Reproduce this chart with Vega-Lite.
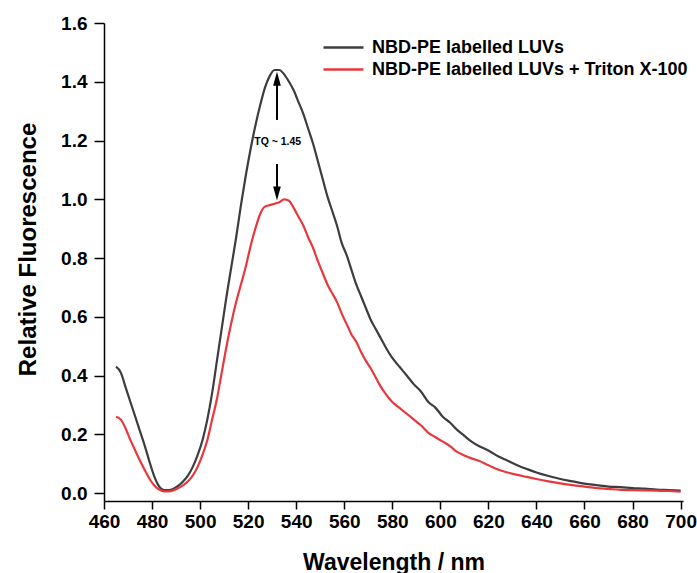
{
  "$schema": "https://vega.github.io/schema/vega-lite/v6.json",
  "width": 579,
  "height": 478,
  "autosize": {"type": "none"},
  "padding": {"left": 104, "top": 23, "right": 14, "bottom": 72},
  "background": "white",
  "config": {
    "view": {"stroke": null},
    "font": "Liberation Sans",
    "axis": {"grid": false, "domainColor": "#000", "domainWidth": 1.5, "tickColor": "#000", "tickWidth": 1.5, "labelFont": "Liberation Sans", "labelFontWeight": "bold", "labelColor": "#000", "titleFont": "Liberation Sans", "titleFontWeight": "bold", "titleColor": "#000", "labelFlush": false}
  },
  "datasets": {
    "spectra": [
      {"nm":465,"f":0.43,"s":"NBD-PE labelled LUVs"},{"nm":467,"f":0.41,"s":"NBD-PE labelled LUVs"},{"nm":469,"f":0.36,"s":"NBD-PE labelled LUVs"},{"nm":471,"f":0.31,"s":"NBD-PE labelled LUVs"},{"nm":473,"f":0.26,"s":"NBD-PE labelled LUVs"},{"nm":475,"f":0.21,"s":"NBD-PE labelled LUVs"},{"nm":477,"f":0.16,"s":"NBD-PE labelled LUVs"},{"nm":479,"f":0.105,"s":"NBD-PE labelled LUVs"},{"nm":481,"f":0.055,"s":"NBD-PE labelled LUVs"},{"nm":483,"f":0.022,"s":"NBD-PE labelled LUVs"},{"nm":485,"f":0.01,"s":"NBD-PE labelled LUVs"},{"nm":487,"f":0.01,"s":"NBD-PE labelled LUVs"},{"nm":489,"f":0.015,"s":"NBD-PE labelled LUVs"},{"nm":491,"f":0.025,"s":"NBD-PE labelled LUVs"},{"nm":493,"f":0.04,"s":"NBD-PE labelled LUVs"},{"nm":495,"f":0.06,"s":"NBD-PE labelled LUVs"},{"nm":497,"f":0.09,"s":"NBD-PE labelled LUVs"},{"nm":499,"f":0.13,"s":"NBD-PE labelled LUVs"},{"nm":501,"f":0.18,"s":"NBD-PE labelled LUVs"},{"nm":503,"f":0.25,"s":"NBD-PE labelled LUVs"},{"nm":505,"f":0.34,"s":"NBD-PE labelled LUVs"},{"nm":507,"f":0.45,"s":"NBD-PE labelled LUVs"},{"nm":509,"f":0.56,"s":"NBD-PE labelled LUVs"},{"nm":511,"f":0.67,"s":"NBD-PE labelled LUVs"},{"nm":513,"f":0.77,"s":"NBD-PE labelled LUVs"},{"nm":515,"f":0.87,"s":"NBD-PE labelled LUVs"},{"nm":517,"f":0.98,"s":"NBD-PE labelled LUVs"},{"nm":519,"f":1.08,"s":"NBD-PE labelled LUVs"},{"nm":521,"f":1.17,"s":"NBD-PE labelled LUVs"},{"nm":523,"f":1.25,"s":"NBD-PE labelled LUVs"},{"nm":525,"f":1.32,"s":"NBD-PE labelled LUVs"},{"nm":527,"f":1.38,"s":"NBD-PE labelled LUVs"},{"nm":529,"f":1.42,"s":"NBD-PE labelled LUVs"},{"nm":531,"f":1.44,"s":"NBD-PE labelled LUVs"},{"nm":533,"f":1.44,"s":"NBD-PE labelled LUVs"},{"nm":535,"f":1.425,"s":"NBD-PE labelled LUVs"},{"nm":537,"f":1.4,"s":"NBD-PE labelled LUVs"},{"nm":539,"f":1.37,"s":"NBD-PE labelled LUVs"},{"nm":541,"f":1.33,"s":"NBD-PE labelled LUVs"},{"nm":543,"f":1.29,"s":"NBD-PE labelled LUVs"},{"nm":545,"f":1.24,"s":"NBD-PE labelled LUVs"},{"nm":547,"f":1.19,"s":"NBD-PE labelled LUVs"},{"nm":549,"f":1.13,"s":"NBD-PE labelled LUVs"},{"nm":551,"f":1.07,"s":"NBD-PE labelled LUVs"},{"nm":553,"f":1.01,"s":"NBD-PE labelled LUVs"},{"nm":555,"f":0.96,"s":"NBD-PE labelled LUVs"},{"nm":557,"f":0.91,"s":"NBD-PE labelled LUVs"},{"nm":559,"f":0.85,"s":"NBD-PE labelled LUVs"},{"nm":561,"f":0.81,"s":"NBD-PE labelled LUVs"},{"nm":563,"f":0.76,"s":"NBD-PE labelled LUVs"},{"nm":565,"f":0.71,"s":"NBD-PE labelled LUVs"},{"nm":567,"f":0.67,"s":"NBD-PE labelled LUVs"},{"nm":569,"f":0.63,"s":"NBD-PE labelled LUVs"},{"nm":571,"f":0.59,"s":"NBD-PE labelled LUVs"},{"nm":573,"f":0.56,"s":"NBD-PE labelled LUVs"},{"nm":575,"f":0.53,"s":"NBD-PE labelled LUVs"},{"nm":577,"f":0.5,"s":"NBD-PE labelled LUVs"},{"nm":580,"f":0.46,"s":"NBD-PE labelled LUVs"},{"nm":583,"f":0.43,"s":"NBD-PE labelled LUVs"},{"nm":586,"f":0.4,"s":"NBD-PE labelled LUVs"},{"nm":589,"f":0.37,"s":"NBD-PE labelled LUVs"},{"nm":592,"f":0.345,"s":"NBD-PE labelled LUVs"},{"nm":595,"f":0.31,"s":"NBD-PE labelled LUVs"},{"nm":598,"f":0.29,"s":"NBD-PE labelled LUVs"},{"nm":601,"f":0.26,"s":"NBD-PE labelled LUVs"},{"nm":604,"f":0.24,"s":"NBD-PE labelled LUVs"},{"nm":607,"f":0.215,"s":"NBD-PE labelled LUVs"},{"nm":610,"f":0.195,"s":"NBD-PE labelled LUVs"},{"nm":613,"f":0.175,"s":"NBD-PE labelled LUVs"},{"nm":616,"f":0.16,"s":"NBD-PE labelled LUVs"},{"nm":620,"f":0.145,"s":"NBD-PE labelled LUVs"},{"nm":624,"f":0.125,"s":"NBD-PE labelled LUVs"},{"nm":628,"f":0.11,"s":"NBD-PE labelled LUVs"},{"nm":632,"f":0.095,"s":"NBD-PE labelled LUVs"},{"nm":636,"f":0.082,"s":"NBD-PE labelled LUVs"},{"nm":640,"f":0.07,"s":"NBD-PE labelled LUVs"},{"nm":645,"f":0.058,"s":"NBD-PE labelled LUVs"},{"nm":650,"f":0.048,"s":"NBD-PE labelled LUVs"},{"nm":655,"f":0.04,"s":"NBD-PE labelled LUVs"},{"nm":660,"f":0.032,"s":"NBD-PE labelled LUVs"},{"nm":665,"f":0.027,"s":"NBD-PE labelled LUVs"},{"nm":670,"f":0.022,"s":"NBD-PE labelled LUVs"},{"nm":675,"f":0.02,"s":"NBD-PE labelled LUVs"},{"nm":680,"f":0.017,"s":"NBD-PE labelled LUVs"},{"nm":685,"f":0.015,"s":"NBD-PE labelled LUVs"},{"nm":690,"f":0.012,"s":"NBD-PE labelled LUVs"},{"nm":695,"f":0.01,"s":"NBD-PE labelled LUVs"},{"nm":700,"f":0.008,"s":"NBD-PE labelled LUVs"},
      {"nm":465,"f":0.26,"s":"NBD-PE labelled LUVs + Triton X-100"},{"nm":467,"f":0.25,"s":"NBD-PE labelled LUVs + Triton X-100"},{"nm":469,"f":0.22,"s":"NBD-PE labelled LUVs + Triton X-100"},{"nm":471,"f":0.18,"s":"NBD-PE labelled LUVs + Triton X-100"},{"nm":473,"f":0.145,"s":"NBD-PE labelled LUVs + Triton X-100"},{"nm":475,"f":0.11,"s":"NBD-PE labelled LUVs + Triton X-100"},{"nm":477,"f":0.078,"s":"NBD-PE labelled LUVs + Triton X-100"},{"nm":479,"f":0.048,"s":"NBD-PE labelled LUVs + Triton X-100"},{"nm":481,"f":0.025,"s":"NBD-PE labelled LUVs + Triton X-100"},{"nm":483,"f":0.012,"s":"NBD-PE labelled LUVs + Triton X-100"},{"nm":485,"f":0.006,"s":"NBD-PE labelled LUVs + Triton X-100"},{"nm":487,"f":0.006,"s":"NBD-PE labelled LUVs + Triton X-100"},{"nm":489,"f":0.01,"s":"NBD-PE labelled LUVs + Triton X-100"},{"nm":491,"f":0.017,"s":"NBD-PE labelled LUVs + Triton X-100"},{"nm":493,"f":0.027,"s":"NBD-PE labelled LUVs + Triton X-100"},{"nm":495,"f":0.04,"s":"NBD-PE labelled LUVs + Triton X-100"},{"nm":497,"f":0.06,"s":"NBD-PE labelled LUVs + Triton X-100"},{"nm":499,"f":0.09,"s":"NBD-PE labelled LUVs + Triton X-100"},{"nm":501,"f":0.13,"s":"NBD-PE labelled LUVs + Triton X-100"},{"nm":503,"f":0.18,"s":"NBD-PE labelled LUVs + Triton X-100"},{"nm":505,"f":0.25,"s":"NBD-PE labelled LUVs + Triton X-100"},{"nm":507,"f":0.32,"s":"NBD-PE labelled LUVs + Triton X-100"},{"nm":509,"f":0.41,"s":"NBD-PE labelled LUVs + Triton X-100"},{"nm":511,"f":0.5,"s":"NBD-PE labelled LUVs + Triton X-100"},{"nm":513,"f":0.58,"s":"NBD-PE labelled LUVs + Triton X-100"},{"nm":515,"f":0.65,"s":"NBD-PE labelled LUVs + Triton X-100"},{"nm":517,"f":0.71,"s":"NBD-PE labelled LUVs + Triton X-100"},{"nm":519,"f":0.77,"s":"NBD-PE labelled LUVs + Triton X-100"},{"nm":521,"f":0.84,"s":"NBD-PE labelled LUVs + Triton X-100"},{"nm":523,"f":0.9,"s":"NBD-PE labelled LUVs + Triton X-100"},{"nm":525,"f":0.95,"s":"NBD-PE labelled LUVs + Triton X-100"},{"nm":527,"f":0.975,"s":"NBD-PE labelled LUVs + Triton X-100"},{"nm":529,"f":0.98,"s":"NBD-PE labelled LUVs + Triton X-100"},{"nm":531,"f":0.985,"s":"NBD-PE labelled LUVs + Triton X-100"},{"nm":533,"f":0.99,"s":"NBD-PE labelled LUVs + Triton X-100"},{"nm":535,"f":1.0,"s":"NBD-PE labelled LUVs + Triton X-100"},{"nm":537,"f":0.995,"s":"NBD-PE labelled LUVs + Triton X-100"},{"nm":539,"f":0.97,"s":"NBD-PE labelled LUVs + Triton X-100"},{"nm":541,"f":0.94,"s":"NBD-PE labelled LUVs + Triton X-100"},{"nm":543,"f":0.91,"s":"NBD-PE labelled LUVs + Triton X-100"},{"nm":545,"f":0.87,"s":"NBD-PE labelled LUVs + Triton X-100"},{"nm":547,"f":0.835,"s":"NBD-PE labelled LUVs + Triton X-100"},{"nm":549,"f":0.79,"s":"NBD-PE labelled LUVs + Triton X-100"},{"nm":551,"f":0.75,"s":"NBD-PE labelled LUVs + Triton X-100"},{"nm":553,"f":0.71,"s":"NBD-PE labelled LUVs + Triton X-100"},{"nm":555,"f":0.68,"s":"NBD-PE labelled LUVs + Triton X-100"},{"nm":557,"f":0.65,"s":"NBD-PE labelled LUVs + Triton X-100"},{"nm":559,"f":0.61,"s":"NBD-PE labelled LUVs + Triton X-100"},{"nm":561,"f":0.575,"s":"NBD-PE labelled LUVs + Triton X-100"},{"nm":563,"f":0.54,"s":"NBD-PE labelled LUVs + Triton X-100"},{"nm":565,"f":0.515,"s":"NBD-PE labelled LUVs + Triton X-100"},{"nm":567,"f":0.48,"s":"NBD-PE labelled LUVs + Triton X-100"},{"nm":569,"f":0.45,"s":"NBD-PE labelled LUVs + Triton X-100"},{"nm":571,"f":0.425,"s":"NBD-PE labelled LUVs + Triton X-100"},{"nm":573,"f":0.395,"s":"NBD-PE labelled LUVs + Triton X-100"},{"nm":575,"f":0.365,"s":"NBD-PE labelled LUVs + Triton X-100"},{"nm":577,"f":0.34,"s":"NBD-PE labelled LUVs + Triton X-100"},{"nm":580,"f":0.31,"s":"NBD-PE labelled LUVs + Triton X-100"},{"nm":583,"f":0.29,"s":"NBD-PE labelled LUVs + Triton X-100"},{"nm":586,"f":0.27,"s":"NBD-PE labelled LUVs + Triton X-100"},{"nm":589,"f":0.25,"s":"NBD-PE labelled LUVs + Triton X-100"},{"nm":592,"f":0.23,"s":"NBD-PE labelled LUVs + Triton X-100"},{"nm":595,"f":0.205,"s":"NBD-PE labelled LUVs + Triton X-100"},{"nm":598,"f":0.19,"s":"NBD-PE labelled LUVs + Triton X-100"},{"nm":601,"f":0.175,"s":"NBD-PE labelled LUVs + Triton X-100"},{"nm":604,"f":0.16,"s":"NBD-PE labelled LUVs + Triton X-100"},{"nm":607,"f":0.14,"s":"NBD-PE labelled LUVs + Triton X-100"},{"nm":610,"f":0.128,"s":"NBD-PE labelled LUVs + Triton X-100"},{"nm":613,"f":0.118,"s":"NBD-PE labelled LUVs + Triton X-100"},{"nm":616,"f":0.11,"s":"NBD-PE labelled LUVs + Triton X-100"},{"nm":620,"f":0.095,"s":"NBD-PE labelled LUVs + Triton X-100"},{"nm":624,"f":0.08,"s":"NBD-PE labelled LUVs + Triton X-100"},{"nm":628,"f":0.07,"s":"NBD-PE labelled LUVs + Triton X-100"},{"nm":632,"f":0.062,"s":"NBD-PE labelled LUVs + Triton X-100"},{"nm":636,"f":0.055,"s":"NBD-PE labelled LUVs + Triton X-100"},{"nm":640,"f":0.048,"s":"NBD-PE labelled LUVs + Triton X-100"},{"nm":645,"f":0.04,"s":"NBD-PE labelled LUVs + Triton X-100"},{"nm":650,"f":0.033,"s":"NBD-PE labelled LUVs + Triton X-100"},{"nm":655,"f":0.027,"s":"NBD-PE labelled LUVs + Triton X-100"},{"nm":660,"f":0.022,"s":"NBD-PE labelled LUVs + Triton X-100"},{"nm":665,"f":0.017,"s":"NBD-PE labelled LUVs + Triton X-100"},{"nm":670,"f":0.014,"s":"NBD-PE labelled LUVs + Triton X-100"},{"nm":675,"f":0.011,"s":"NBD-PE labelled LUVs + Triton X-100"},{"nm":680,"f":0.01,"s":"NBD-PE labelled LUVs + Triton X-100"},{"nm":685,"f":0.009,"s":"NBD-PE labelled LUVs + Triton X-100"},{"nm":690,"f":0.008,"s":"NBD-PE labelled LUVs + Triton X-100"},{"nm":695,"f":0.007,"s":"NBD-PE labelled LUVs + Triton X-100"},{"nm":700,"f":0.005,"s":"NBD-PE labelled LUVs + Triton X-100"}
    ],
    "shafts": [
      {"nm":532,"f":1.27,"f2":1.4},
      {"nm":532,"f":1.12,"f2":1.03}
    ],
    "headUp": [{"nm":532,"f":1.41}],
    "headDown": [{"nm":532,"f":1.02}],
    "label": [{"nm":532.3,"f":1.195,"t":"TQ ~ 1.45"}]
  },
  "layer": [
    {
      "data": {"name": "spectra"},
      "mark": {"type": "line", "strokeWidth": 2.2, "interpolate": "monotone"},
      "encoding": {
        "x": {"field": "nm", "type": "quantitative",
          "scale": {"domain": [460, 701], "nice": false, "zero": false},
          "axis": {"title": "Wavelength / nm", "titleFontSize": 23, "titlePadding": 20,
            "values": [460,470,480,490,500,510,520,530,540,550,560,570,580,590,600,610,620,630,640,650,660,670,680,690,700],
            "labelExpr": "datum.value % 20 === 0 ? datum.label : ''",
            "labelOverlap": false, "labelFontSize": 19, "labelPadding": 3, "format": "d",
            "tickSize": {"condition": {"test": "datum.value % 20 === 0", "value": 8}, "value": 5}}},
        "y": {"field": "f", "type": "quantitative",
          "scale": {"domain": [-0.027, 1.6], "nice": false, "zero": false},
          "axis": {"title": "Relative Fluorescence", "titleFontSize": 24, "titlePadding": 20, "titleY": 226,
            "values": [0,0.2,0.4,0.6,0.8,1.0,1.2,1.4,1.6], "format": ".1f",
            "labelFontSize": 19, "labelPadding": 7, "tickSize": 10}},
        "color": {"field": "s", "type": "nominal",
          "scale": {"domain": ["NBD-PE labelled LUVs", "NBD-PE labelled LUVs + Triton X-100"], "range": ["#3d3d3d", "#e8383d"]},
          "legend": {"title": null, "orient": "none", "legendX": 228, "legendY": 13,
            "symbolType": "M-2,0L2,0", "symbolSize": 400, "symbolStrokeWidth": 2.5,
            "labelFont": "Liberation Sans", "labelFontWeight": "bold", "labelFontSize": 18, "labelColor": "#000",
            "labelOffset": 17, "rowPadding": 1, "labelLimit": 400}}
      }
    },
    {
      "data": {"name": "shafts"},
      "mark": {"type": "rule", "color": "#000", "strokeWidth": 2},
      "encoding": {
        "x": {"field": "nm", "type": "quantitative"},
        "y": {"field": "f", "type": "quantitative"},
        "y2": {"field": "f2"}
      }
    },
    {
      "data": {"name": "headUp"},
      "mark": {"type": "point", "shape": "M-0.55,1L0,-1L0.55,1Z", "filled": true, "color": "#000", "opacity": 1, "size": 196},
      "encoding": {
        "x": {"field": "nm", "type": "quantitative"},
        "y": {"field": "f", "type": "quantitative"}
      }
    },
    {
      "data": {"name": "headDown"},
      "mark": {"type": "point", "shape": "M-0.55,-1L0,1L0.55,-1Z", "filled": true, "color": "#000", "opacity": 1, "size": 196},
      "encoding": {
        "x": {"field": "nm", "type": "quantitative"},
        "y": {"field": "f", "type": "quantitative"}
      }
    },
    {
      "data": {"name": "label"},
      "mark": {"type": "text", "font": "Liberation Sans", "fontSize": 10.5, "fontWeight": "bold", "color": "#000", "align": "center", "baseline": "middle"},
      "encoding": {
        "x": {"field": "nm", "type": "quantitative"},
        "y": {"field": "f", "type": "quantitative"},
        "text": {"field": "t"}
      }
    }
  ]
}
